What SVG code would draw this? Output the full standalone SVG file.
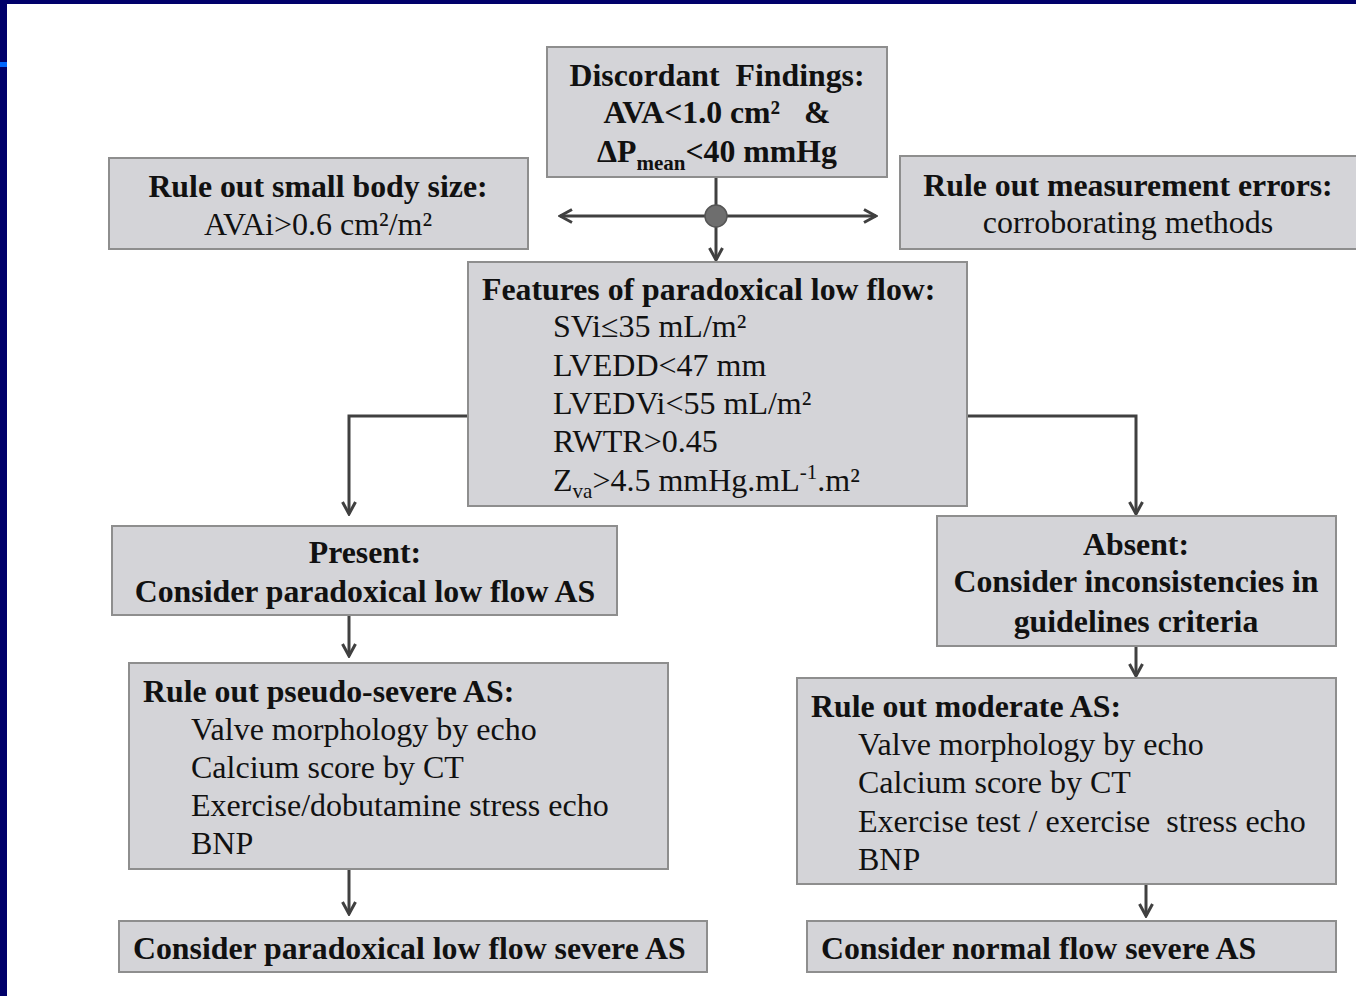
<svg xmlns="http://www.w3.org/2000/svg" width="1356" height="996" viewBox="0 0 1356 996">
<style>
.box{fill:#d4d4d8;stroke:#8e8e8e;stroke-width:2}
.b{font-family:"Liberation Serif","Times New Roman",serif;font-weight:bold;font-size:31.8px;fill:#111}
.r{font-family:"Liberation Serif","Times New Roman",serif;font-size:32px;fill:#111}
.c{text-anchor:middle}
.ln{fill:none;stroke:#404040;stroke-width:3}
</style>
<defs>
<marker id="ah" viewBox="0 0 16 16" refX="14" refY="8" markerWidth="16" markerHeight="16" markerUnits="userSpaceOnUse" orient="auto-start-reverse">
<path d="M2,1.5 L14,8 L2,14.5" fill="none" stroke="#404040" stroke-width="3"/>
</marker>
</defs>
<rect x="0" y="0" width="1356" height="996" fill="#ffffff"/>
<rect x="0" y="0" width="1356" height="4" fill="#00006a"/>
<rect x="0" y="0" width="7" height="996" fill="#00006a"/>
<rect x="0" y="62" width="7" height="5" fill="#0066ff"/>

<g id="connectors">
<line class="ln" x1="716" y1="177" x2="716" y2="260" marker-end="url(#ah)"/>
<line class="ln" x1="560" y1="216" x2="876" y2="216" marker-start="url(#ah)" marker-end="url(#ah)"/>
<circle cx="716" cy="216" r="11" fill="#6e6e6e" stroke="#555" stroke-width="1.5"/>
<polyline class="ln" points="468,416 349,416 349,514" marker-end="url(#ah)"/>
<polyline class="ln" points="967,416 1136,416 1136,514" marker-end="url(#ah)"/>
<line class="ln" x1="349" y1="615" x2="349" y2="656" marker-end="url(#ah)"/>
<line class="ln" x1="349" y1="869" x2="349" y2="914" marker-end="url(#ah)"/>
<line class="ln" x1="1136" y1="646" x2="1136" y2="676" marker-end="url(#ah)"/>
<line class="ln" x1="1146" y1="884" x2="1146" y2="916" marker-end="url(#ah)"/>
</g>

<g id="discordant">
<rect class="box" x="547" y="47" width="340" height="130"/>
<text class="b c" x="717" y="86" xml:space="preserve">Discordant  Findings:</text>
<text class="b c" x="717" y="123" xml:space="preserve">AVA&lt;1.0 cm²   &amp;</text>
<text class="b c" x="717" y="162">ΔP<tspan font-size="21" dy="8">mean</tspan><tspan dy="-8">&lt;40 mmHg</tspan></text>
</g>

<g id="body-size">
<rect class="box" x="109" y="158" width="419" height="91"/>
<text class="b c" x="318" y="197">Rule out small body size:</text>
<text class="r c" x="318" y="235">AVAi&gt;0.6 cm²/m²</text>
</g>

<g id="measurement">
<rect class="box" x="900" y="156" width="457" height="93"/>
<text class="b c" x="1128" y="196">Rule out measurement errors:</text>
<text class="r c" x="1128" y="233">corroborating methods</text>
</g>

<g id="features">
<rect class="box" x="468" y="262" width="499" height="244"/>
<text class="b" x="482" y="300">Features of paradoxical low flow:</text>
<text class="r" x="553" y="337">SVi≤35 mL/m²</text>
<text class="r" x="553" y="376">LVEDD&lt;47 mm</text>
<text class="r" x="553" y="414">LVEDVi&lt;55 mL/m²</text>
<text class="r" x="553" y="452">RWTR&gt;0.45</text>
<text class="r" x="553" y="491">Z<tspan font-size="21" dy="7">va</tspan><tspan dy="-7">&gt;4.5 mmHg.mL</tspan><tspan font-size="21" dy="-12">-1</tspan><tspan dy="12">.m²</tspan></text>
</g>

<g id="present">
<rect class="box" x="112" y="526" width="505" height="89"/>
<text class="b c" x="365" y="563">Present:</text>
<text class="b c" x="365" y="602">Consider paradoxical low flow AS</text>
</g>

<g id="pseudo-severe">
<rect class="box" x="129" y="663" width="539" height="206"/>
<text class="b" x="143" y="702">Rule out pseudo-severe AS:</text>
<text class="r" x="191" y="740">Valve morphology by echo</text>
<text class="r" x="191" y="778">Calcium score by CT</text>
<text class="r" x="191" y="816">Exercise/dobutamine stress echo</text>
<text class="r" x="191" y="854">BNP</text>
</g>

<g id="paradoxical-severe">
<rect class="box" x="119" y="921" width="588" height="51"/>
<text class="b" x="133" y="959">Consider paradoxical low flow severe AS</text>
</g>

<g id="absent">
<rect class="box" x="937" y="516" width="399" height="130"/>
<text class="b c" x="1136" y="555">Absent:</text>
<text class="b c" x="1136" y="592">Consider inconsistencies in</text>
<text class="b c" x="1136" y="632">guidelines criteria</text>
</g>

<g id="moderate">
<rect class="box" x="797" y="678" width="539" height="206"/>
<text class="b" x="811" y="717">Rule out moderate AS:</text>
<text class="r" x="858" y="755">Valve morphology by echo</text>
<text class="r" x="858" y="793">Calcium score by CT</text>
<text class="r" x="858" y="832" xml:space="preserve">Exercise test / exercise  stress echo</text>
<text class="r" x="858" y="870">BNP</text>
</g>

<g id="normal-severe">
<rect class="box" x="807" y="921" width="529" height="51"/>
<text class="b" x="821" y="959">Consider normal flow severe AS</text>
</g>
</svg>
